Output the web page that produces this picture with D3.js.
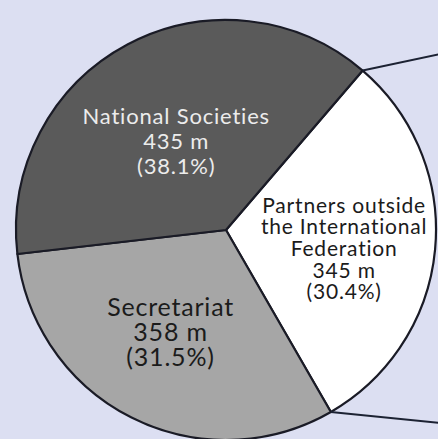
<!DOCTYPE html>
<html>
<head>
<meta charset="utf-8">
<script src="https://cdn.jsdelivr.net/npm/d3@7"></script>
<style>
    html, body { margin: 0; padding: 0; background: #dcdff2; }
    svg { display: block; }
</style>
</head>
<body>
<script>
// data, in drawing order (clockwise from the upper right boundary)
const categories = ['Partners outside the International Federation', 'Secretariat', 'National Societies'];
const amounts = [345, 358, 435];          // millions
const percents = [30.4, 31.5, 38.1];
const labelLines = [
    ['Partners outside', 'the International', 'Federation'],
    ['Secretariat'],
    ['National Societies']
];

const width = 438;
const height = 439;
const cx = 226;
const cy = 230;
const radius = 210;
const startDeg = 40.6;

// per slice look and label placement
const fills = ['#ffffff', '#a6a6a6', '#5a5a5a'];
const textColors = ['#1b1b1b', '#1b1b1b', '#ececec'];
const fontSizes = [21, 25, 22];
const lineHeights = [21.7, 25, 25];
const labelPlace = [
    { r: 0.565, dx: 0, dy: 7.5 },
    { r: 0.55, dx: -3.5, dy: -1.5 },
    { r: 0.49, dx: -1.5, dy: 1.5 }
];
// leader lines run from the two boundaries of the first slice off to the right
const leaderEnds = [54, 423];

const svg = d3.select('body').append('svg')
    .attr('width', width)
    .attr('height', height);

svg.append('rect')
    .attr('width', width)
    .attr('height', height)
    .attr('fill', '#dcdff2');

const g = svg.append('g')
    .attr('transform', `translate(${cx}, ${cy})`);

const pie = d3.pie()
    .sort(null)
    .value(d => d)
    .startAngle(startDeg * Math.PI / 180)
    .endAngle((startDeg + 360) * Math.PI / 180);

const arcs = pie(percents);

const arc = d3.arc()
    .innerRadius(0)
    .outerRadius(radius);

g.selectAll('path.slice')
    .data(arcs)
    .enter()
    .append('path')
    .classed('slice', true)
    .attr('d', arc)
    .attr('fill', (d, i) => fills[i])
    .attr('stroke', '#1a1b26')
    .attr('stroke-width', 2.2)
    .attr('stroke-linejoin', 'round');

// leader lines
const first = arcs[0];
[first.startAngle, first.endAngle].forEach((a, i) => {
    const x0 = cx + radius * Math.sin(a);
    const y0 = cy - radius * Math.cos(a);
    svg.append('line')
        .attr('x1', x0)
        .attr('y1', y0)
        .attr('x2', width + 2)
        .attr('y2', leaderEnds[i])
        .attr('stroke', '#1c2233')
        .attr('stroke-width', 2);
});

// labels
arcs.forEach((d, i) => {
    const place = labelPlace[i];
    const lab = d3.arc()
        .innerRadius(radius * place.r)
        .outerRadius(radius * place.r);
    const [lx, ly] = lab.centroid(d);
    const lines = labelLines[i].concat([`${amounts[i]} m`, `(${percents[i]}%)`]);
    const fs = fontSizes[i];
    const lh = lineHeights[i];
    const capH = fs * 0.72;
    const blockH = (lines.length - 1) * lh + capH;
    const top = ly + place.dy - blockH / 2 + capH;

    const text = g.append('text')
        .attr('text-anchor', 'middle')
        .attr('font-family', 'Lato, "Open Sans", sans-serif')
        .attr('font-size', fs)
        .attr('letter-spacing', 0.8)
        .attr('fill', textColors[i]);

    text.selectAll('tspan')
        .data(lines)
        .enter()
        .append('tspan')
        .attr('x', lx + place.dx)
        .attr('y', (t, j) => top + j * lh)
        .text(t => t);
});
</script>
</body>
</html>
